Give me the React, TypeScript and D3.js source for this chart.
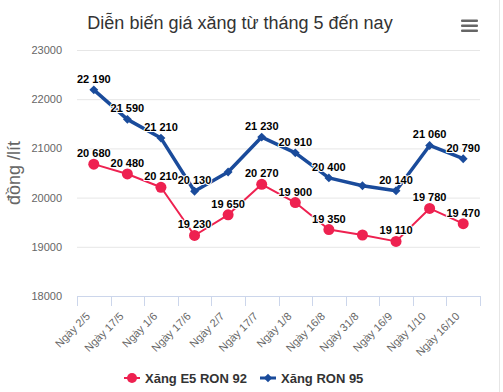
import React, { useRef, useEffect } from 'react';
import * as d3 from 'd3';

const categories = ['Ngày 2/5', 'Ngày 17/5', 'Ngày 1/6', 'Ngày 17/6', 'Ngày 2/7', 'Ngày 17/7',
  'Ngày 1/8', 'Ngày 16/8', 'Ngày 31/8', 'Ngày 16/9', 'Ngày 1/10', 'Ngày 16/10'];
const e5Values = [20680, 20480, 20210, 19230, 19650, 20270, 19900, 19350, 19240, 19110, 19780, 19470];
const ron95Values = [22190, 21590, 21210, 20130, 20520, 21230, 20910, 20400, 20240, 20140, 21060, 20790];
// labels that the original chart hides because they overlap
const e5HiddenLabels = [8];
const ron95HiddenLabels = [4, 8];
const yTicks = [18000, 19000, 20000, 21000, 22000, 23000];

const FONT = '"Liberation Sans", Arial, sans-serif';

function App() {
  const width = 503;
  const height = 392;
  const svgRef = useRef<SVGSVGElement>(null);

  const margin = { top: 50, right: 23, bottom: 96, left: 77 };
  const innerWidth = width - margin.left - margin.right;
  const innerHeight = height - margin.top - margin.bottom;

  const xScale = d3.scaleBand().domain(categories).range([0, innerWidth]);
  const yScale = d3.scaleLinear().domain([18000, 23000]).range([innerHeight, 0]);

  useEffect(() => {
    const svg = d3.select(svgRef.current);
    svg.selectAll('*').remove();

    svg.append('rect').attr('width', width).attr('height', height).attr('fill', '#fff');
    svg.append('line')
      .attr('x1', 499.5).attr('x2', 499.5).attr('y1', 0).attr('y2', height)
      .attr('stroke', '#e6e6e6');

    // title
    svg.append('text')
      .attr('x', 240).attr('y', 29)
      .attr('text-anchor', 'middle')
      .attr('font-family', FONT).attr('font-size', 18)
      .attr('fill', '#333')
      .text('Diễn biến giá xăng từ tháng 5 đến nay');

    // menu icon
    [0, 1, 2].forEach(i => {
      svg.append('rect')
        .attr('x', 461).attr('y', 19.5 + i * 5)
        .attr('width', 17).attr('height', 2.6)
        .attr('rx', 1)
        .attr('fill', '#666');
    });

    // y axis title
    svg.append('text')
      .attr('transform', `translate(20,${margin.top + innerHeight / 2}) rotate(-90)`)
      .attr('text-anchor', 'middle')
      .attr('font-family', FONT).attr('font-size', 18)
      .attr('fill', '#666')
      .text('đồng /lít');

    const g = svg.append('g').attr('transform', `translate(${margin.left},${margin.top})`);

    // grid + y labels
    const yAxis = d3.axisLeft(yScale).tickValues(yTicks).tickSize(-innerWidth).tickFormat(d3.format('d'));
    const yg = g.append('g').call(yAxis);
    yg.select('.domain').remove();
    yg.selectAll('.tick line').attr('stroke', '#e6e6e6');
    yg.selectAll('.tick text')
      .attr('x', -15)
      .attr('fill', '#666')
      .attr('font-family', FONT).attr('font-size', 11);

    // x axis
    const xAxisG = g.append('g').attr('transform', `translate(0,${innerHeight})`);
    xAxisG.append('line')
      .attr('x1', 0).attr('x2', innerWidth).attr('y1', 0.5).attr('y2', 0.5)
      .attr('stroke', '#ccd6eb');
    const tickPositions = categories.map(c => xScale(c)!).concat([innerWidth]);
    xAxisG.selectAll('line.tk').data(tickPositions).enter().append('line')
      .attr('class', 'tk')
      .attr('x1', d => Math.round(d) + 0.5).attr('x2', d => Math.round(d) + 0.5)
      .attr('y1', 0).attr('y2', 10)
      .attr('stroke', '#ccd6eb');
    xAxisG.selectAll('text').data(categories).enter().append('text')
      .attr('transform', d => `translate(${xScale(d)! + xScale.bandwidth() / 2 - 3},${21}) rotate(-45)`)
      .attr('text-anchor', 'end')
      .attr('font-family', FONT).attr('font-size', 11)
      .attr('fill', '#666')
      .text(d => d);

    const cx = (i: number) => xScale(categories[i])! + xScale.bandwidth() / 2;
    const line = d3.line<number>().x((_, i) => cx(i)).y(d => yScale(d));

    const drawSeries = (values: number[], color: string, lw: number, marker: 'circle' | 'diamond', hidden: number[]) => {
      g.append('path')
        .datum(values)
        .attr('d', line)
        .attr('fill', 'none')
        .attr('stroke', color)
        .attr('stroke-width', lw)
        .attr('stroke-linejoin', 'round');
      if (marker === 'circle') {
        g.selectAll(null).data(values).enter().append('circle')
          .attr('cx', (_, i) => cx(i)).attr('cy', d => yScale(d))
          .attr('r', 5.5).attr('fill', color);
      } else {
        g.selectAll(null).data(values).enter().append('path')
          .attr('d', d3.symbol(d3.symbolDiamond2, 50)())
          .attr('transform', (d, i) => `translate(${cx(i)},${yScale(d)})`)
          .attr('fill', color);
      }
      const fmt = (v: number) => d3.format(',')(v).replace(',', ' ');
      const labels = values.map((v, i) => ({ v, i })).filter(d => !hidden.includes(d.i));
      const drawLabels = (stroke: boolean) => {
        g.selectAll(null).data(labels).enter().append('text')
          .attr('x', d => cx(d.i)).attr('y', d => yScale(d.v) - 7)
          .attr('text-anchor', 'middle')
          .attr('font-family', FONT).attr('font-size', 11).attr('font-weight', 'bold')
          .attr('fill', '#000')
          .attr('stroke', stroke ? '#fff' : 'none')
          .attr('stroke-width', stroke ? 2 : 0)
          .attr('stroke-linejoin', 'round')
          .text(d => fmt(d.v));
      };
      drawLabels(true);
      drawLabels(false);
    };

    drawSeries(e5Values, '#ee2150', 2, 'circle', e5HiddenLabels);
    drawSeries(ron95Values, '#1a4b9b', 3.5, 'diamond', ron95HiddenLabels);

    // legend
    const legend = svg.append('g').attr('transform', 'translate(0,378)');
    const items = [
      { name: 'Xăng E5 RON 92', color: '#ee2150', x: 124, marker: 'circle', lw: 2 },
      { name: 'Xăng RON 95', color: '#1a4b9b', x: 260, marker: 'diamond', lw: 3 },
    ];
    items.forEach(it => {
      legend.append('line')
        .attr('x1', it.x).attr('x2', it.x + 16).attr('y1', 0).attr('y2', 0)
        .attr('stroke', it.color).attr('stroke-width', it.lw);
      if (it.marker === 'circle') {
        legend.append('circle').attr('cx', it.x + 8).attr('cy', 0).attr('r', 5).attr('fill', it.color);
      } else {
        legend.append('path')
          .attr('d', d3.symbol(d3.symbolDiamond2, 45)())
          .attr('transform', `translate(${it.x + 8},0)`)
          .attr('fill', it.color);
      }
      legend.append('text')
        .attr('x', it.x + 21).attr('y', 5)
        .attr('font-family', FONT).attr('font-size', 13).attr('font-weight', 'bold')
        .attr('fill', '#333')
        .text(it.name);
    });
  });

  return (
    <div style={{ position: 'absolute', left: 0, top: 0 }}>
      <svg ref={svgRef} width={width} height={height} style={{ display: 'block' }} />
    </div>
  );
}

export default App;
